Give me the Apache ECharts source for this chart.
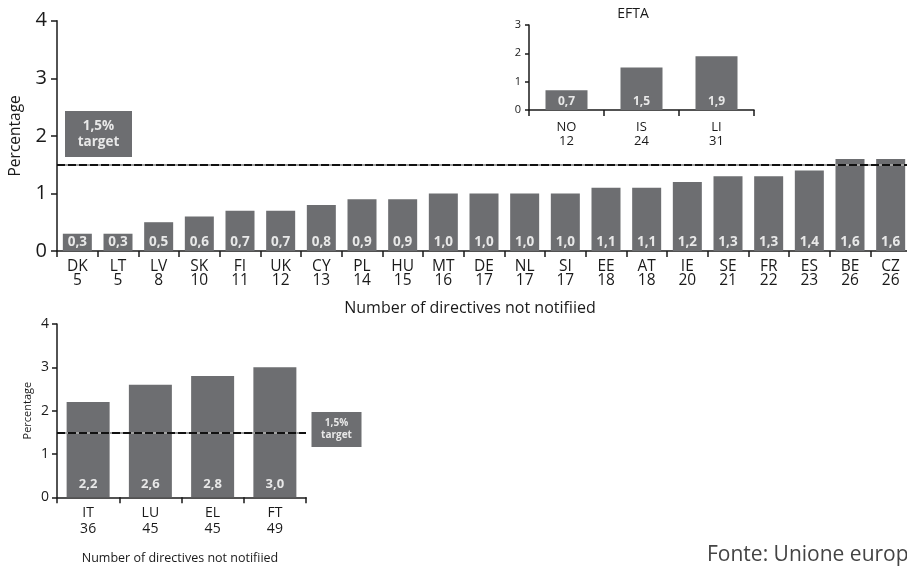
<!DOCTYPE html>
<html>
<head>
<meta charset="utf-8">
<script src="https://cdn.jsdelivr.net/npm/echarts@6/dist/echarts.min.js"></script>
<style>
  html, body { margin: 0; padding: 0; background: #fff; }
  #chart { width: 907px; height: 572px; }
</style>
</head>
<body>
<div id="chart"></div>
<script>
// Member states within reach of the target
const mainCodes  = ['DK','LT','LV','SK','FI','UK','CY','PL','HU','MT','DE','NL','SI','EE','AT','IE','SE','FR','ES','BE','CZ'];
const mainCounts = [5,5,8,10,11,12,13,14,15,16,17,17,17,18,18,20,21,22,23,26,26];
const mainValues = [0.3,0.3,0.5,0.6,0.7,0.7,0.8,0.9,0.9,1.0,1.0,1.0,1.0,1.1,1.1,1.2,1.3,1.3,1.4,1.6,1.6];

// EFTA countries
const eftaCodes  = ['NO','IS','LI'];
const eftaCounts = [12,24,31];
const eftaValues = [0.7,1.5,1.9];

// Member states above the target
const highCodes  = ['IT','LU','EL','FT'];
const highCounts = [36,45,45,49];
const highValues = [2.2,2.6,2.8,3.0];

const targetValue = 1.5;

const FONT = 'Open Sans';
const BAR = '#6d6e71';
const INK = '#1a1a1a';
const LABEL_INK = '#e8e8e8';

const fmt = v => v.toFixed(1).replace('.', ',');

function xAxisFor(gridIndex, codes, counts, fontSize, lineHeight, margin) {
  return {
    type: 'category', gridIndex, data: codes,
    axisLine: { lineStyle: { color: INK, width: 1.5 } },
    axisTick: { show: true, length: 6, lineStyle: { color: INK, width: 1.5 } },
    axisLabel: {
      interval: 0, margin, color: INK, fontFamily: FONT, fontSize, lineHeight,
      hideOverlap: false,
      formatter: (v, i) => v + '\n' + counts[i]
    }
  };
}

function yAxisFor(gridIndex, max, fontSize, margin, tickLen) {
  return {
    type: 'value', gridIndex, min: 0, max, interval: 1,
    splitLine: { show: false },
    axisLine: { show: true, lineStyle: { color: INK, width: 1.5 } },
    axisTick: { show: true, length: tickLen, lineStyle: { color: INK, width: 1.5 } },
    axisLabel: { margin, color: INK, fontFamily: FONT, fontSize }
  };
}

function barSeries(idx, values, barWidth, labelSize, labelDist, withTarget) {
  const s = {
    type: 'bar', xAxisIndex: idx, yAxisIndex: idx, data: values, barWidth,
    itemStyle: { color: BAR },
    label: {
      show: true, position: 'insideBottom', distance: labelDist,
      color: LABEL_INK, fontFamily: FONT, fontWeight: 'bold', fontSize: labelSize,
      formatter: p => fmt(p.value)
    },
    silent: true, animation: false
  };
  if (withTarget) {
    // target line: grey base with black dashes on top
    s.markLine = {
      silent: true, symbol: 'none', animation: false,
      label: { show: false },
      data: [
        { yAxis: targetValue, lineStyle: { color: '#a0a0a0', width: 2, type: 'solid' } },
        { yAxis: targetValue, lineStyle: { color: '#111', width: 2, type: [8, 3] } }
      ]
    };
  }
  return s;
}

const chart = echarts.init(document.getElementById('chart'), null, { renderer: 'canvas' });

// grids are placed exactly; the main one runs slightly past the right edge
const gridBase = { outerBoundsMode: 'none', containLabel: false };

chart.setOption({
  backgroundColor: '#ffffff',
  animation: false,
  grid: [
    Object.assign({ left: 57, top: 20.7, width: 854, height: 230.3 }, gridBase),
    Object.assign({ left: 529, top: 25, width: 225, height: 85 }, gridBase),
    Object.assign({ left: 57, top: 324, width: 249, height: 173.3 }, gridBase)
  ],
  xAxis: [
    xAxisFor(0, mainCodes, mainCounts, 15.5, 14, 9),
    xAxisFor(1, eftaCodes, eftaCounts, 13, 14, 10),
    xAxisFor(2, highCodes, highCounts, 14, 16, 8)
  ],
  yAxis: [
    Object.assign(yAxisFor(0, 4, 20, 10, 6), {
      name: 'Percentage', nameLocation: 'middle', nameGap: 33, nameRotate: 90,
      nameTextStyle: { color: INK, fontFamily: FONT, fontSize: 15.5 }
    }),
    yAxisFor(1, 3, 11, 8, 4),
    Object.assign(yAxisFor(2, 4, 14, 8, 5), {
      name: 'Percentage', nameLocation: 'middle', nameGap: 24, nameRotate: 90,
      nameTextStyle: { color: INK, fontFamily: FONT, fontSize: 11 }
    })
  ],
  series: [
    barSeries(0, mainValues, 29, 13.5, 2, true),
    barSeries(1, eftaValues, 42, 12, 2, false),
    barSeries(2, highValues, 43, 13, 7, true)
  ],
  graphic: [
    // main target box
    { type: 'rect', shape: { x: 65, y: 111, width: 67, height: 46 }, style: { fill: BAR } },
    { type: 'text', x: 98.5, y: 126, style: { text: '1,5%', fill: LABEL_INK, font: 'bold 13.5px "Open Sans"', textAlign: 'center', textVerticalAlign: 'middle' } },
    { type: 'text', x: 98.5, y: 142, style: { text: 'target', fill: LABEL_INK, font: 'bold 13.5px "Open Sans"', textAlign: 'center', textVerticalAlign: 'middle' } },
    // lower target box
    { type: 'rect', shape: { x: 311.5, y: 412, width: 50, height: 35 }, style: { fill: BAR } },
    { type: 'text', x: 336.5, y: 423, style: { text: '1,5%', fill: LABEL_INK, font: 'bold 10px "Open Sans"', textAlign: 'center', textVerticalAlign: 'middle' } },
    { type: 'text', x: 336.5, y: 435.5, style: { text: 'target', fill: LABEL_INK, font: 'bold 10px "Open Sans"', textAlign: 'center', textVerticalAlign: 'middle' } },
    // titles and axis captions
    { type: 'text', x: 633, y: 14, style: { text: 'EFTA', fill: INK, font: '14px "Open Sans"', textAlign: 'center', textVerticalAlign: 'middle' } },
    { type: 'text', x: 470, y: 308, style: { text: 'Number of directives not notifiied', fill: INK, font: '16px "Open Sans"', textAlign: 'center', textVerticalAlign: 'middle' } },
    { type: 'text', x: 180, y: 558, style: { text: 'Number of directives not notifiied', fill: INK, font: '12.5px "Open Sans"', textAlign: 'center', textVerticalAlign: 'middle' } },
    { type: 'text', x: 707, y: 555, style: { text: 'Fonte: Unione europea', fill: '#444', font: '21px "Open Sans"', textAlign: 'left', textVerticalAlign: 'middle' } }
  ]
});
</script>
</body>
</html>
